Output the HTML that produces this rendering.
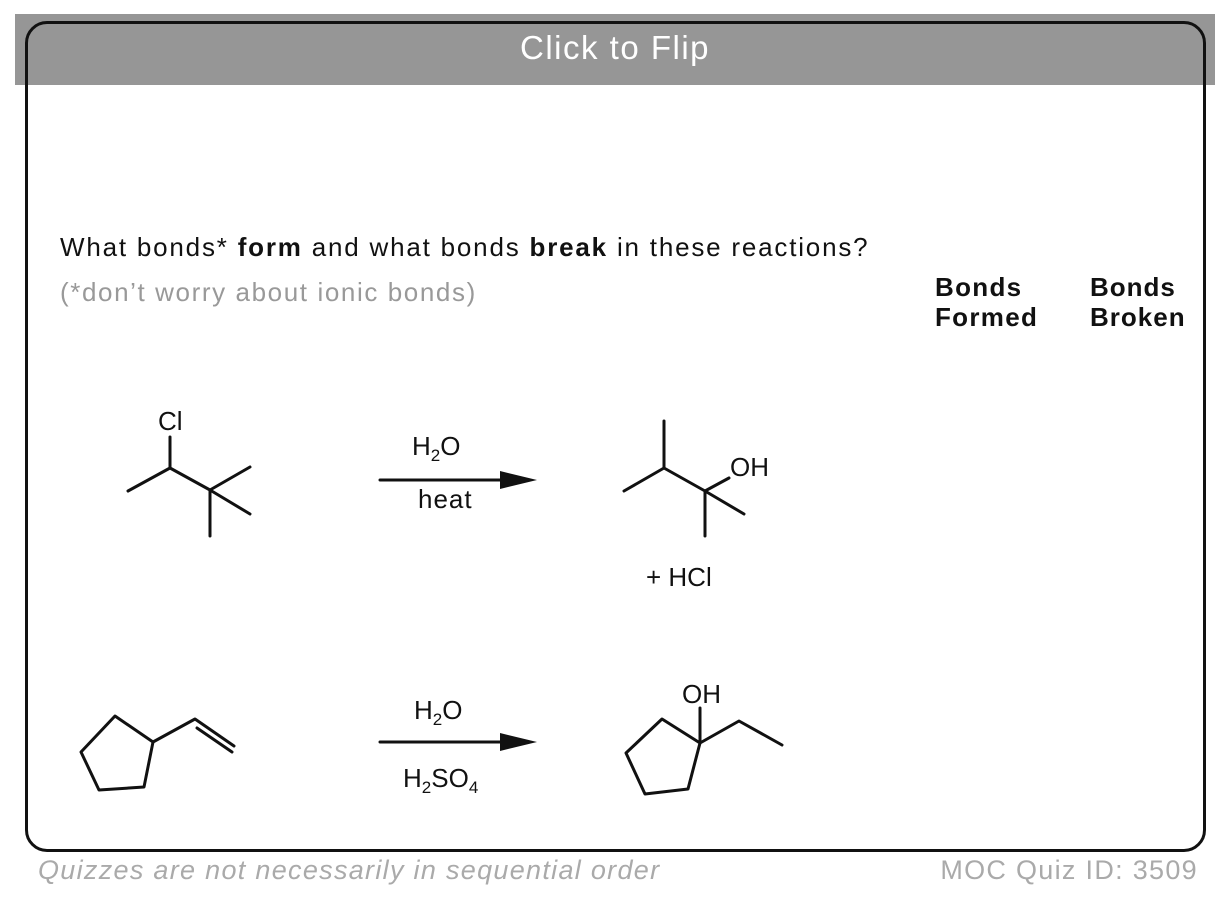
<!DOCTYPE html>
<html><head><style>
body{margin:0;width:1216px;height:898px;background:#fff;position:relative;overflow:hidden;font-family:"Liberation Sans",Arial,sans-serif}
.t{position:absolute;white-space:nowrap}
</style></head><body>
<div style="position:absolute;left:15px;top:14px;width:1200px;height:71px;background:#969696"></div>
<div style="position:absolute;left:25px;top:21px;width:1175px;height:825px;border:3px solid #111;border-radius:22px"></div>
<div class="t" style="left:0;width:1230px;text-align:center;top:29px;font-size:33px;letter-spacing:1.5px;color:#fff">Click to Flip</div>
<div class="t" style="left:60px;top:232px;font-size:26px;letter-spacing:1.8px;color:#111">What bonds* <b>form</b> and what bonds <b>break</b> in these reactions?</div>
<div class="t" style="left:60px;top:277px;font-size:26px;letter-spacing:1.6px;color:#999">(*don’t worry about ionic bonds)</div>
<div class="t" style="left:935px;top:272px;font-size:26px;letter-spacing:1.3px;font-weight:bold;line-height:30px;color:#111">Bonds<br>Formed</div>
<div class="t" style="left:1090px;top:272px;font-size:26px;letter-spacing:1px;font-weight:bold;line-height:30px;color:#111">Bonds<br>Broken</div>
<div class="t" style="left:38px;top:855px;font-size:27px;letter-spacing:1.3px;font-style:italic;color:#aaa">Quizzes are not necessarily in sequential order</div>
<div class="t" style="right:18px;top:855px;font-size:27px;letter-spacing:1.3px;color:#aaa">MOC Quiz ID: 3509</div>
<svg width="1216" height="898" style="position:absolute;left:0;top:0" font-family="Liberation Sans, Arial, sans-serif" fill="#111">
<g stroke="#111" stroke-width="3" fill="none" stroke-linecap="round" stroke-linejoin="round">
<polyline points="170,437 170,468 128,491"/>
<polyline points="170,468 210,490 250,467"/>
<polyline points="250,514 210,490 210,536"/>
<line x1="380" y1="480" x2="510" y2="480"/>
<polyline points="664,421 664,468 624,491"/>
<polyline points="664,468 705,491 729,478"/>
<polyline points="744,514 705,491 705,536"/>
<line x1="380" y1="742" x2="510" y2="742"/>
<polygon points="115,716 153,742 144,787 99,790 81,752"/>
<polyline points="153,742 195,719 234,746"/>
<line x1="197" y1="728" x2="232" y2="752"/>
<polygon points="662,719 700,743 688,789 645,794 626,753"/>
<polyline points="700,708 700,743 739,721 782,745"/>
</g>
<polygon points="500,471 537,480 500,489"/>
<polygon points="500,733 537,742 500,751"/>
<g font-size="26">
<text x="158" y="430">Cl</text>
<text x="412" y="455">H<tspan font-size="17" dy="6">2</tspan><tspan dy="-6">O</tspan></text>
<text x="418" y="508" letter-spacing="1">heat</text>
<text x="730" y="476">OH</text>
<text x="646" y="586">+ HCl</text>
<text x="414" y="719">H<tspan font-size="17" dy="6">2</tspan><tspan dy="-6">O</tspan></text>
<text x="403" y="787">H<tspan font-size="17" dy="6">2</tspan><tspan dy="-6">SO</tspan><tspan font-size="17" dy="6">4</tspan></text>
<text x="682" y="703">OH</text>
</g>
</svg>
</body></html>
